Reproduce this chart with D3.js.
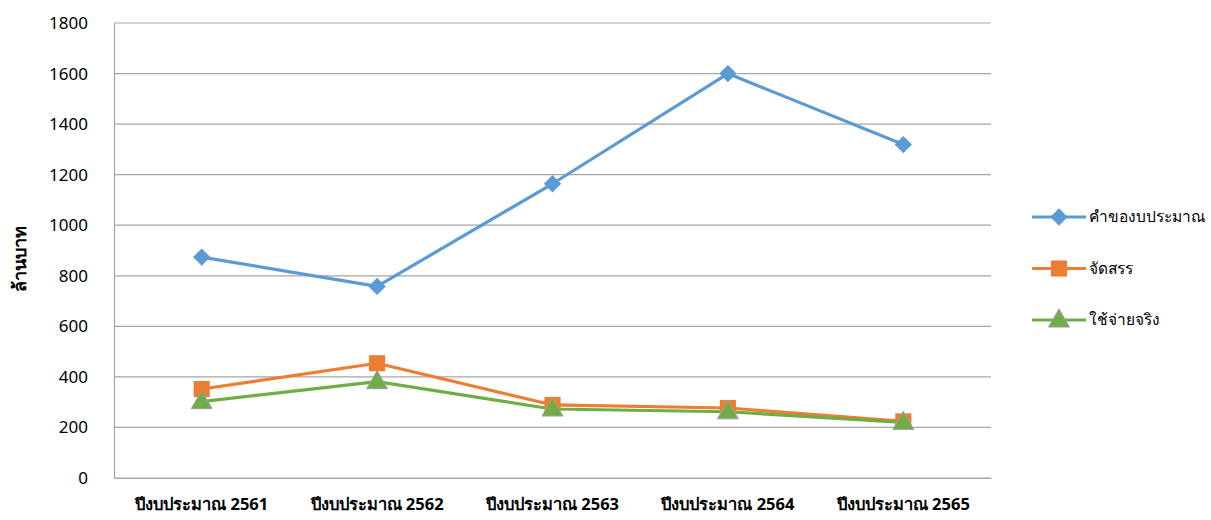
<!DOCTYPE html>
<html>
<head>
<meta charset="utf-8">
<script src="https://cdn.jsdelivr.net/npm/d3@7"></script>
<style>
  body { margin: 0; background: #fff; }
  text { font-family: Tahoma, "Noto Sans", "DejaVu Sans", sans-serif; fill: #000; }
</style>
</head>
<body>
<div id="chart"></div>
<script>
const categories = ["ปีงบประมาณ 2561", "ปีงบประมาณ 2562", "ปีงบประมาณ 2563", "ปีงบประมาณ 2564", "ปีงบประมาณ 2565"];
const seriesNames = ["คำของบประมาณ", "จัดสรร", "ใช้จ่ายจริง"];
const requested = [874, 758, 1164, 1600, 1319];
const allocated = [352, 454, 289, 277, 224];
const spent = [302, 381, 273, 262, 220];
const yTicks = [0, 200, 400, 600, 800, 1000, 1200, 1400, 1600, 1800];

// diamond = square turned 45 degrees
const series = [
  { name: seriesNames[0], values: requested, color: "#5b9bd5", shape: d3.symbolSquare, size: 150, rotate: 45, stroke: "none", dy: 0 },
  { name: seriesNames[1], values: allocated, color: "#ed7d31", shape: d3.symbolSquare, size: 260, rotate: 0, stroke: "none", dy: 0 },
  { name: seriesNames[2], values: spent, color: "#70ad47", shape: d3.symbolTriangle, size: 190, rotate: 0, stroke: "#a0a0a0", dy: 1 }
];

const width = 1211;
const height = 520;
const margin = { top: 23, right: 220, bottom: 42, left: 114 };
const innerWidth = width - margin.left - margin.right;
const innerHeight = height - margin.top - margin.bottom;

const xScale = d3.scaleBand()
  .domain(categories)
  .range([0, innerWidth]);

const yScale = d3.scaleLinear()
  .domain([0, 1800])
  .range([innerHeight, 0]);

const svg = d3.select("#chart")
  .append("svg")
    .attr("width", width)
    .attr("height", height);

const inner = svg.append("g")
  .attr("transform", `translate(${margin.left}, ${margin.top})`);

// gridlines
inner.append("g")
  .selectAll("line")
  .data(yTicks)
  .join("line")
    .attr("x1", 0)
    .attr("x2", innerWidth)
    .attr("y1", (d) => yScale(d))
    .attr("y2", (d) => yScale(d))
    .attr("stroke", "#a6a6a6")
    .attr("stroke-width", 1.2);

// y axis
const yAxis = inner.append("g")
  .call(d3.axisLeft(yScale).tickValues(yTicks).tickSize(0).tickPadding(26).tickFormat(d3.format("d")));
yAxis.select(".domain").attr("stroke", "#a6a6a6").attr("stroke-width", 1.2);
yAxis.selectAll("text").attr("font-size", 17).style("font-family", "Tahoma, 'Noto Sans', sans-serif");

// x axis
const xAxis = inner.append("g")
  .attr("transform", `translate(0, ${innerHeight})`)
  .call(d3.axisBottom(xScale).tickSize(0).tickPadding(20));
xAxis.select(".domain").attr("stroke", "#a6a6a6").attr("stroke-width", 1.2);
xAxis.selectAll("text")
  .attr("font-size", 16.5)
  .attr("font-weight", "bold")
  .style("font-family", "Tahoma, 'Noto Sans', sans-serif");

// y label
svg.append("text")
  .attr("transform", `translate(26, 259) rotate(-90)`)
  .attr("text-anchor", "middle")
  .attr("font-size", 18)
  .attr("font-weight", "bold")
  .text("ล้านบาท");

const line = d3.line()
  .x((d, i) => xScale(categories[i]) + xScale.bandwidth() / 2)
  .y((d) => yScale(d));

series.forEach((s) => {
  inner.append("path")
    .datum(s.values)
    .attr("fill", "none")
    .attr("stroke", s.color)
    .attr("stroke-width", 3.2)
    .attr("stroke-linejoin", "round")
    .attr("d", line);
});

series.forEach((s) => {
  inner.append("g")
    .selectAll("path")
    .data(s.values)
    .join("path")
      .attr("transform", (d, i) => `translate(${xScale(categories[i]) + xScale.bandwidth() / 2}, ${yScale(d) + s.dy}) rotate(${s.rotate})`)
      .attr("d", d3.symbol().type(s.shape).size(s.size))
      .attr("fill", s.color)
      .attr("stroke", s.stroke)
      .attr("stroke-width", 1);
});

// legend
const legend = svg.append("g")
  .attr("transform", "translate(1032, 217)");

const legendItem = legend.selectAll("g")
  .data(series)
  .join("g")
    .attr("transform", (d, i) => `translate(0, ${i * 51.5})`);

legendItem.append("line")
  .attr("x1", 0)
  .attr("x2", 54)
  .attr("stroke", (d) => d.color)
  .attr("stroke-width", 3.2);

legendItem.append("path")
  .attr("transform", (d) => `translate(27, ${d.dy}) rotate(${d.rotate})`)
  .attr("d", (d) => d3.symbol().type(d.shape).size(d.size)())
  .attr("fill", (d) => d.color)
  .attr("stroke", (d) => d.stroke);

legendItem.append("text")
  .attr("x", 57)
  .attr("dy", "0.35em")
  .attr("font-size", 15.5)
  .text((d) => d.name);
</script>
</body>
</html>
